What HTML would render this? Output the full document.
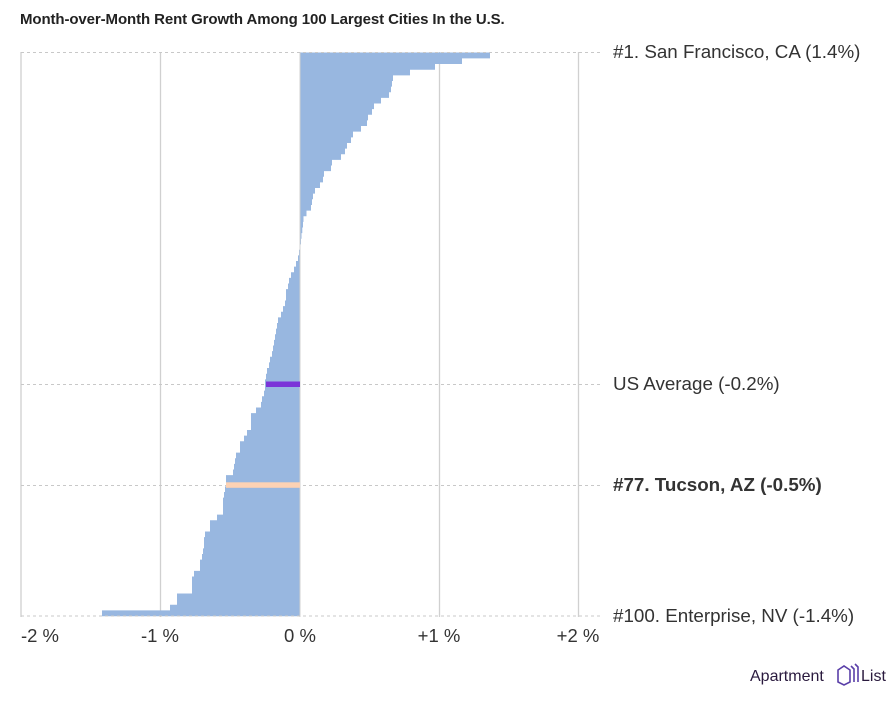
<!DOCTYPE html>
<html><head><meta charset="utf-8"><style>
body{margin:0;background:#fff;width:896px;height:707px;overflow:hidden;font-family:"Liberation Sans",sans-serif;}
</style></head><body>
<svg width="896" height="707" viewBox="0 0 896 707" xmlns="http://www.w3.org/2000/svg">
<text x="20" y="24" font-size="15" fill="#222" font-weight="bold" font-family="Liberation Sans" letter-spacing="-0.1">Month-over-Month Rent Growth Among 100 Largest Cities In the U.S.</text>
<g stroke="#d0d0d0" stroke-width="1.3">
<line x1="21" y1="52" x2="21" y2="617"/>
<line x1="160.5" y1="52" x2="160.5" y2="617"/>
<line x1="439.5" y1="52" x2="439.5" y2="617"/>
<line x1="578.5" y1="52" x2="578.5" y2="617"/>
</g>
<path id="bars" fill="#98b7e0" d=""/>
<line x1="300" y1="52" x2="300" y2="617" stroke="#d0d0d0" stroke-width="1"/>
<g stroke="#c8c8c8" stroke-width="1" stroke-dasharray="3,3">
<line x1="21" y1="52.5" x2="600" y2="52.5"/>
<line x1="21" y1="384.5" x2="600" y2="384.5"/>
<line x1="21" y1="485.5" x2="600" y2="485.5"/>
<line x1="21" y1="616" x2="600" y2="616"/>
</g>
<rect x="266" y="381.5" width="34" height="5.5" fill="#7b35d8"/>
<rect x="226" y="482.3" width="74" height="5.5" fill="#fdd2b4"/>
<g font-size="18.8" fill="#333" font-family="Liberation Sans">
<text x="613" y="58">#1. San Francisco, CA (1.4%)</text>
<text x="613" y="390">US Average (-0.2%)</text>
<text x="613" y="491" font-weight="bold">#77. Tucson, AZ (-0.5%)</text>
<text x="613" y="622">#100. Enterprise, NV (-1.4%)</text>
</g>
<g font-size="18.5" fill="#333" text-anchor="middle" font-family="Liberation Sans">
<text x="40" y="642">-2 %</text>
<text x="160" y="642">-1 %</text>
<text x="300" y="642">0 %</text>
<text x="439" y="642">+1 %</text>
<text x="578" y="642">+2 %</text>
</g>
<text x="750" y="681" font-size="16" fill="#2a1a3e" font-family="Liberation Sans">Apartment</text>
<g fill="none" stroke="#5a3fa8" stroke-width="1.6">
<path d="M838 670 l6 -4 l6 4 v12 l-6 3 l-6 -3 z"/>
<path d="M851 666 l3 3 v13 M855 664 l3 3 v15"/>
</g>
<text x="861" y="681" font-size="16" fill="#2a1a3e" font-family="Liberation Sans">List</text>
</svg>
<script>
var w=[190,162,135,110,93,92,91,89,81,74,72,68,67,61,53,51,47,45,41,32,31,24,23,20,15,13,12,11,6.5,3.5,3,2.3,1.5,1,0.5,
-1,-2,-4,-6,-9,-11,-12,-14,-14,-15,-17,-19,-22,-23,-24,-25,-26,-27,-28,-30,-31,-33,-34,-35,-35,-36,-38,-39,-44,-49,-49,-49,-53,-56,-60,-60,-64,-65,-66,-67,-74,-74,-75,-76,-77,-77,-77,-83,-90,-90,-95,-96,-96,-97,-98,-100,-100,-106,-108,-108,-108,-123,-123,-130,-198];
var d="",h=5.635,y0=52.5;
for(var i=0;i<w.length;i++){var y=y0+i*h,x=w[i]>=0?300:300+w[i],ww=Math.abs(w[i]);
d+="M"+x+" "+y.toFixed(2)+"h"+ww+"v"+(h+0.3).toFixed(2)+"h"+(-ww)+"z";}
document.getElementById("bars").setAttribute("d",d);
</script>
</body></html>
